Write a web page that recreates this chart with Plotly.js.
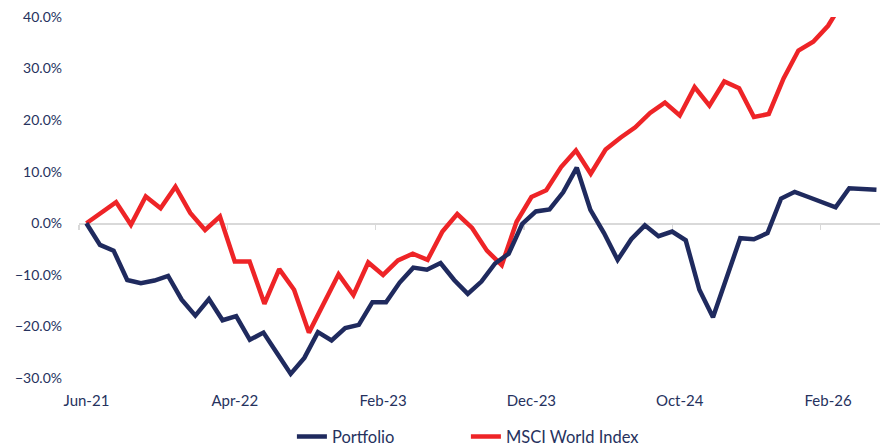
<!DOCTYPE html>
<html>
<head>
<meta charset="utf-8">
<script src="https://cdn.plot.ly/plotly-3.0.1.min.js"></script>
<style>
  html, body { margin: 0; padding: 0; background: #ffffff; }
  #chart { width: 887px; height: 446px; }
</style>
</head>
<body>
<div id="chart"></div>
<script>
// Category tick labels (index axis of the MSCI series)
const tickIndex = [0, 10, 20, 30, 40, 50];
const tickLabels = ['Jun-21', 'Apr-22', 'Feb-23', 'Dec-23', 'Oct-24', 'Feb-26'];
const boundaryTicks = [-0.5, 9.5, 19.5, 29.5, 39.5, 49.5];

// Cumulative return, % (Portfolio series, 59 observations)
const portfolio = [
  0.0, -4.2, -5.3, -11.0, -11.6, -11.1, -10.2, -14.8, -17.9, -14.7,
  -18.8, -18.0, -22.6, -21.2, -25.2, -29.2, -26.1, -21.1, -22.7, -20.3,
  -19.7, -15.3, -15.3, -11.5, -8.6, -9.0, -7.7, -11.0, -13.7, -11.3,
  -7.8, -5.9, -0.1, 2.3, 2.7, 6.0, 10.8, 2.6, -1.9, -7.1,
  -3.1, -0.4, -2.5, -1.6, -3.3, -12.9, -18.2, -10.4, -2.9, -3.1,
  -1.9, 4.8, 6.1, 5.1, 4.1, 3.1, 6.8, 6.7, 6.5
];

// Cumulative return, % (MSCI World Index, 54 observations)
const msci = [
  0.0, 2.0, 4.1, -0.3, 5.2, 2.9, 7.1, 2.0, -1.3, 1.3,
  -7.4, -7.4, -15.6, -8.9, -12.9, -21.2, -15.5, -9.9, -13.9, -7.6,
  -10.0, -7.2, -5.9, -7.1, -1.6, 1.8, -0.9, -5.3, -8.1, 0.3,
  5.1, 6.4, 10.9, 14.1, 9.6, 14.3, 16.6, 18.6, 21.4, 23.4,
  20.9, 26.4, 22.8, 27.5, 26.2, 20.6, 21.2, 28.1, 33.5, 35.2,
  38.3, 43.0, 45.5, 47.0
];

const seriesNames = ['Portfolio', 'MSCI World Index'];
const colors = ['#1F2A5E', '#EE2427'];
const textColor = '#26325E';
const fontFamily = 'Lato, "Open Sans", sans-serif';

const idx = arr => arr.map((_, i) => i);
const pct = arr => arr.map(v => v / 100);

const traces = [
  {
    x: [0], y: [null], xaxis: 'x3', yaxis: 'y',
    type: 'scatter', mode: 'lines', showlegend: false, hoverinfo: 'skip'
  },
  {
    x: idx(portfolio), y: pct(portfolio),
    xaxis: 'x2', yaxis: 'y',
    type: 'scatter', mode: 'lines', name: seriesNames[0],
    line: { color: colors[0], width: 4.5 },
    hoverinfo: 'skip'
  },
  {
    x: idx(msci), y: pct(msci),
    xaxis: 'x', yaxis: 'y',
    type: 'scatter', mode: 'lines', name: seriesNames[1],
    line: { color: colors[1], width: 4.5 },
    hoverinfo: 'skip'
  }
];

const layout = {
  width: 887, height: 446,
  margin: { l: 79, r: 6.5, t: 17, b: 67.7, pad: 0, autoexpand: false },
  paper_bgcolor: '#ffffff', plot_bgcolor: '#ffffff',
  font: { family: fontFamily, size: 14, color: textColor },
  showlegend: true,
  legend: {
    orientation: 'h', x: 0.2658, xanchor: 'left', y: -0.163, yanchor: 'middle',
    entrywidth: 129,
    font: { family: fontFamily, size: 16.5, color: textColor },
    bgcolor: 'rgba(0,0,0,0)'
  },
  xaxis: {
    range: [-0.5, 53.5],
    tickmode: 'array', tickvals: tickIndex, ticktext: tickLabels,
    showgrid: false, zeroline: false, showline: false, ticks: '',
    ticklabelstandoff: 12,
    tickfont: { family: fontFamily, size: 15, color: textColor }
  },
  xaxis2: {
    overlaying: 'x', range: [-0.54, 58.26], visible: false,
    showgrid: false, zeroline: false
  },
  xaxis3: {
    overlaying: 'x', anchor: 'free', position: 3 / 7,
    range: [-0.5, 53.5], layer: 'below traces',
    showline: true, linecolor: '#D9D9D9', linewidth: 1.5,
    ticks: 'outside', ticklen: 5, tickcolor: '#D9D9D9', tickwidth: 1.5,
    tickmode: 'array', tickvals: boundaryTicks, showticklabels: false,
    showgrid: false, zeroline: false
  },
  yaxis: {
    range: [-0.3, 0.4], dtick: 0.1, tick0: 0, tickformat: '.1%',
    showgrid: false, zeroline: true, zerolinecolor: '#D9D9D9', zerolinewidth: 1.5,
    showline: false, ticks: '',
    ticklabelstandoff: 16,
    tickfont: { family: fontFamily, size: 14, color: textColor }
  }
};

Plotly.newPlot('chart', traces, layout, { staticPlot: true, displayModeBar: false });
</script>
</body>
</html>
